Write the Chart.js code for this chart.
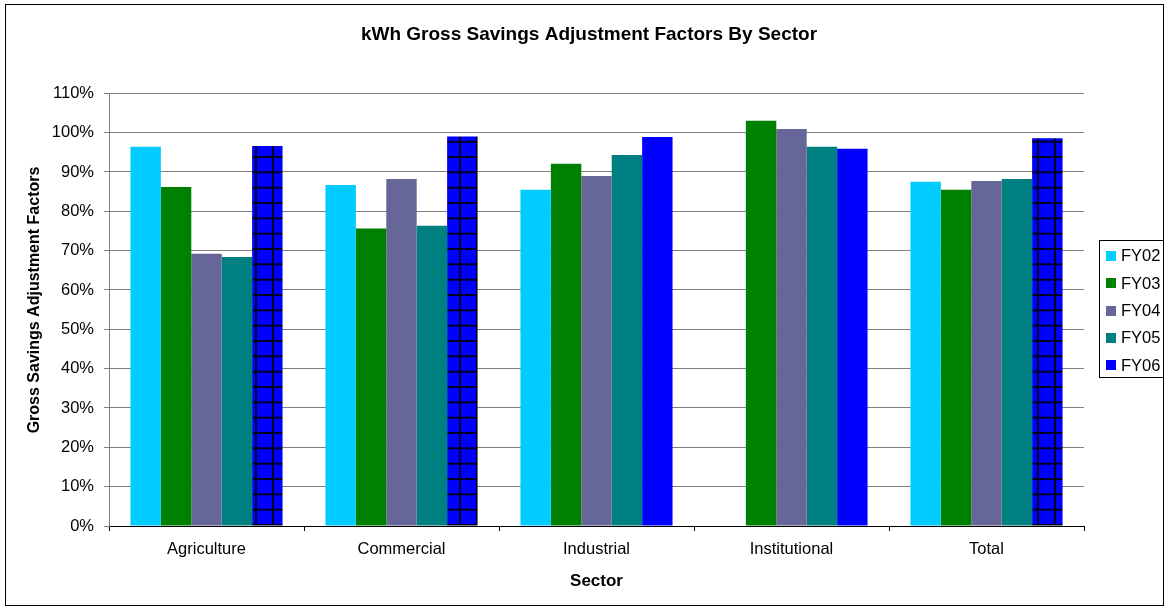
<!DOCTYPE html>
<html>
<head>
<meta charset="utf-8">
<script src="https://cdn.jsdelivr.net/npm/chart.js@4.4.1/dist/chart.umd.min.js"></script>
<style>
  html, body { margin: 0; padding: 0; background: #fff; }
  #wrap { width: 1168px; height: 609px; position: relative; }
</style>
</head>
<body>
<div id="wrap"><canvas id="c" width="1168" height="609"></canvas></div>
<script>
const categories = ['Agriculture', 'Commercial', 'Industrial', 'Institutional', 'Total'];
const seriesNames = ['FY02', 'FY03', 'FY04', 'FY05', 'FY06'];
const fy02 = [96.4, 86.7, 85.5, null, 87.5];
const fy03 = [86.2, 75.6, 92.1, 103.0, 85.5];
const fy04 = [69.2, 88.2, 89.0, 100.9, 87.7];
const fy05 = [68.4, 76.3, 94.3, 96.4, 88.2];
const fy06 = [96.6, 99.0, 98.9, 95.9, 98.6];
const fy06Hatched = [true, true, false, false, true];
const yTicks = [0, 10, 20, 30, 40, 50, 60, 70, 80, 90, 100, 110];
const colors = ['#00CCFF', '#008000', '#666699', '#008080', '#0000FF'];
const chartTitle = 'kWh Gross Savings Adjustment Factors By Sector';
const yTitle = 'Gross Savings Adjustment Factors';
const xTitle = 'Sector';

const FONT = '"Liberation Sans", Arial, sans-serif';

// grid pattern for hatched FY06 bars
function makePattern() {
  const t = document.createElement('canvas');
  t.width = 34; t.height = 46;
  const g = t.getContext('2d');
  g.fillStyle = '#0000FF';
  g.fillRect(0, 0, 34, 46);
  g.fillStyle = '#000022';
  [0, 17].forEach(x => g.fillRect(x, 0, 2, 46));
  [3.7, 19, 34.3].forEach(y => g.fillRect(0, y - 1, 34, 2));
  const ctx = document.getElementById('c').getContext('2d');
  return ctx.createPattern(t, 'repeat');
}
const pattern = makePattern();

const allSeries = [fy02, fy03, fy04, fy05, fy06];
const datasets = allSeries.map((d, i) => ({
  label: seriesNames[i],
  data: d,
  backgroundColor: i === 4 ? fy06Hatched.map(h => h ? pattern : colors[4]) : colors[i],
  borderWidth: 0,
  categoryPercentage: 0.78,
  barPercentage: 1.0
}));

const framePlugin = {
  id: 'frame',
  beforeDraw(chart) {
    const c = chart.ctx;
    c.save();
    c.fillStyle = '#fff';
    c.fillRect(0, 0, chart.width, chart.height);
    c.strokeStyle = '#000';
    c.lineWidth = 1;
    c.strokeRect(5.5, 4.5, 1158, 601);
    c.restore();
  },
  afterDraw(chart) {
    const c = chart.ctx;
    c.save();
    // main title
    c.fillStyle = '#000';
    c.font = 'bold 19px ' + FONT;
    c.textAlign = 'center';
    c.textBaseline = 'middle';
    c.fillText(chartTitle, 589, 35);
    // y axis title
    c.save();
    c.translate(34.5, 300);
    c.rotate(-Math.PI / 2);
    c.font = 'bold 16px ' + FONT;
    c.fillText(yTitle, 0, 0);
    c.restore();
    // legend
    c.strokeStyle = '#000';
    c.lineWidth = 1;
    c.strokeRect(1099.5, 240.5, 64, 137);
    c.font = '16.5px ' + FONT;
    c.textBaseline = 'middle';
    c.textAlign = 'left';
    chart.data.datasets.forEach((ds, i) => {
      const cy = 255.7 + i * 27.4;
      c.fillStyle = colors[i];
      c.fillRect(1106, Math.round(cy - 5), 10, 10);
      c.fillStyle = '#000';
      c.fillText(ds.label, 1121, cy + 1);
    });
    c.restore();
  }
};

new Chart(document.getElementById('c'), {
  type: 'bar',
  data: { labels: categories, datasets },
  plugins: [framePlugin],
  options: {
    responsive: false,
    devicePixelRatio: 1,
    animation: false,
    layout: { padding: { left: 0, right: 84, top: 93.3, bottom: 0 } },
    plugins: {
      legend: { display: false },
      tooltip: { enabled: false },
      title: { display: false }
    },
    scales: {
      x: {
        afterFit(s) { s.height = 83; },
        grid: { display: true, drawOnChartArea: false, drawTicks: true, tickLength: 5, offset: true, color: '#000' },
        border: { display: true, color: '#000', width: 1 },
        ticks: { color: '#000', font: { family: FONT, size: 16.5 }, padding: 9, maxRotation: 0 },
        title: {
          display: true, text: xTitle, color: '#000',
          font: { family: FONT, size: 17, weight: 'bold' },
          padding: { top: 0, bottom: 17.8 }
        }
      },
      y: {
        min: 0, max: 110,
        afterFit(s) { s.width = 109; },
        afterBuildTicks(s) { s.ticks = yTicks.map(v => ({ value: v })); },
        grid: { color: '#808080', lineWidth: 1, tickLength: 5, drawTicks: true },
        border: { display: true, color: '#808080', width: 1 },
        ticks: {
          color: '#000', font: { family: FONT, size: 16.5 }, padding: 10,
          callback: v => v + '%'
        },
        title: { display: false }
      }
    }
  }
});
</script>
</body>
</html>
